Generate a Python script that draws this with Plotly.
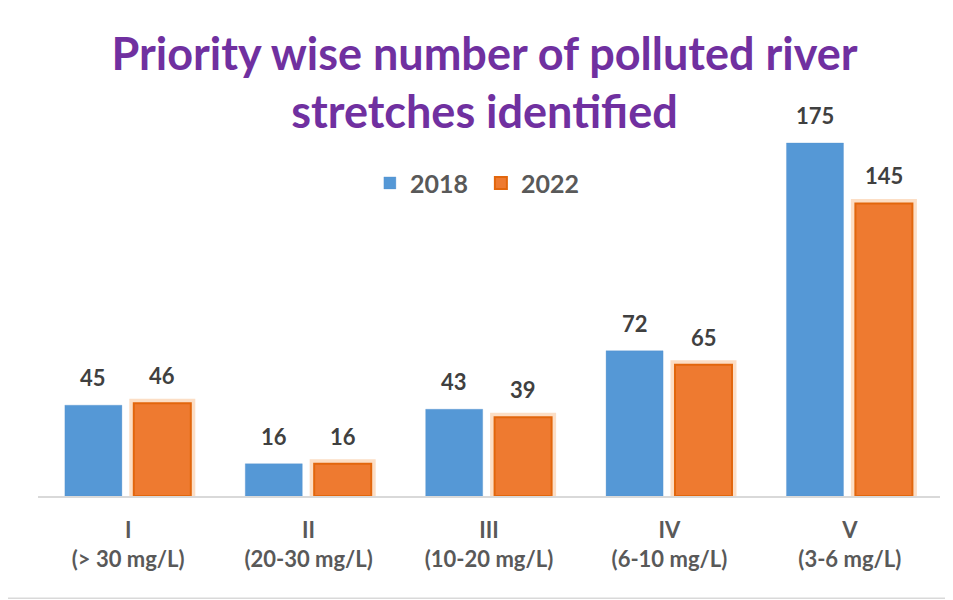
import plotly.graph_objects as go

categories = ["I<br>(> 30 mg/L)", "II<br>(20-30 mg/L)", "III<br>(10-20 mg/L)",
              "IV<br>(6-10 mg/L)", "V<br>(3-6 mg/L)"]
series_names = ["2018", "2022"]
values_2018 = [45, 16, 43, 72, 175]
values_2022 = [46, 16, 39, 65, 145]

xpos = list(range(len(categories)))
BAR_W = 0.316
OFF_2018 = -0.351
OFF_2022 = 0.031

FONT = "Lato"
BLUE = "#5598d6"
ORANGE = "#ee7a30"
ORANGE_EDGE = "#e2660c"

fig = go.Figure()

# glow behind orange bars
fig.add_trace(go.Bar(
    x=xpos, y=values_2022, width=BAR_W, offset=OFF_2022,
    marker=dict(color=ORANGE, line=dict(color="rgba(247,160,90,0.35)", width=9)),
    showlegend=False, hoverinfo="skip"))

fig.add_trace(go.Bar(
    x=xpos, y=values_2018, name=f"<b>{series_names[0]}</b>", width=BAR_W, offset=OFF_2018,
    marker=dict(color=BLUE, line=dict(color="rgba(80,140,200,0.6)", width=0.5))))
fig.add_trace(go.Bar(
    x=xpos, y=values_2022, name=f"<b>{series_names[1]}</b>", width=BAR_W, offset=OFF_2022,
    marker=dict(color=ORANGE, line=dict(color=ORANGE_EDGE, width=2))))

annotations = []
for vals, off in ((values_2018, OFF_2018), (values_2022, OFF_2022)):
    for i, v in enumerate(vals):
        annotations.append(dict(
            x=i + off + BAR_W / 2, y=v, xref="x", yref="y", text=f"<b>{v}</b>",
            showarrow=False, yanchor="bottom", yshift=12,
            font=dict(family=FONT, size=22, color="#404040")))

fig.update_layout(
    width=953, height=600,
    margin=dict(l=30, r=21, t=92, b=112),
    paper_bgcolor="white", plot_bgcolor="white",
    barmode="overlay",
    title=dict(text="<b>Priority wise number of polluted river<br>stretches identified</b>",
               x=0.5, xanchor="center", y=0.897, yanchor="top",
               font=dict(family=FONT, size=45, color="#7030a0")),
    legend=dict(orientation="h", x=0.491, xanchor="center", y=0.79, yanchor="middle",
                font=dict(family=FONT, size=25, color="#595959"),
                entrywidth=66,
                bgcolor="rgba(0,0,0,0)", traceorder="normal"),
    annotations=annotations,
    shapes=[dict(type="rect", xref="paper", yref="paper",
                 x0=-0.0377, x1=1.06, y0=-0.258, y1=1.245,
                 line=dict(color="#d9d9d9", width=1.5), layer="below")],
    xaxis=dict(tickmode="array", tickvals=xpos, ticktext=[f"<b>{c}</b>" for c in categories],
               range=[-0.5, 4.5], showgrid=False, zeroline=False,
               showline=True, linecolor="#d9d9d9", linewidth=2,
               ticks="", ticklabelstandoff=14,
               tickfont=dict(family=FONT, size=22, color="#595959")),
    yaxis=dict(range=[0, 196.3], visible=False, showgrid=False, zeroline=False),
)

fig.write_html("out.html")
